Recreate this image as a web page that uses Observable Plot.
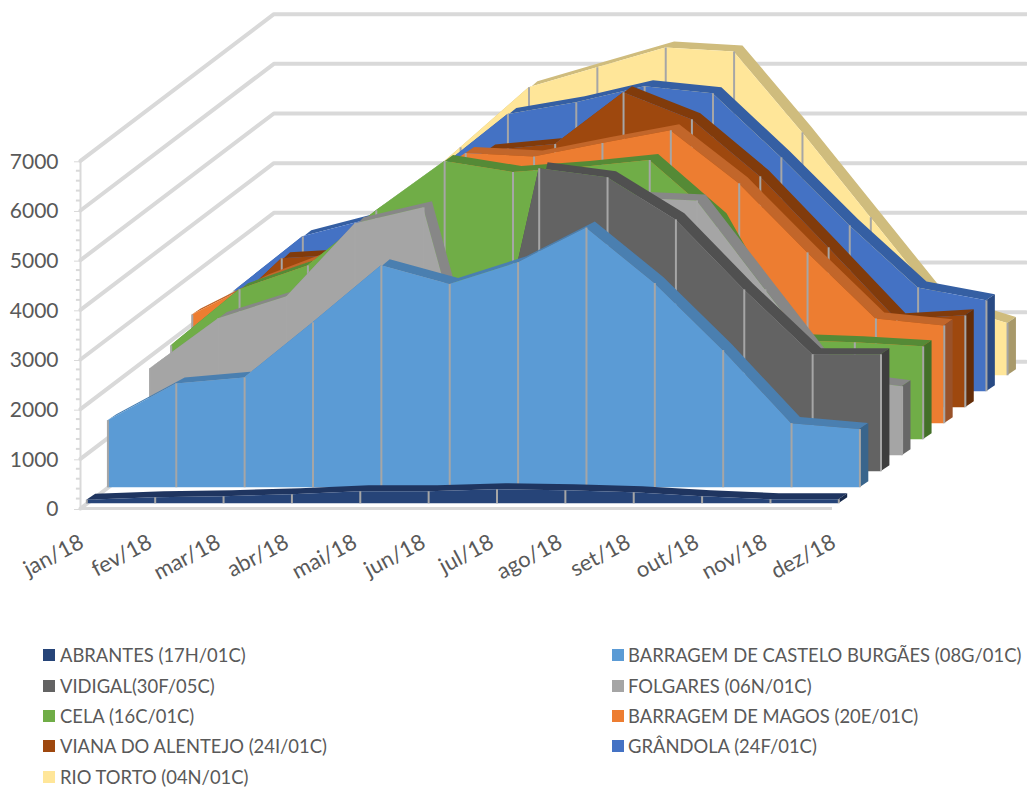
<!DOCTYPE html>
<html>
<head>
<meta charset="utf-8">
<script src="https://cdn.jsdelivr.net/npm/d3@7"></script>
<script src="https://cdn.jsdelivr.net/npm/@observablehq/plot@0.6"></script>
<style>
html,body{margin:0;padding:0;background:#fff;overflow:hidden}
#chart{width:1027px;height:640px}
#legend{position:relative;width:1027px;height:149px;font-family:Lato,sans-serif;font-size:18.4px;color:#595959}
.item{position:absolute;white-space:nowrap;line-height:20px}
.sw{position:absolute;width:12px;height:12px;top:4px}
.lb{position:absolute;top:0}
</style>
</head>
<body>
<div id="chart"></div>
<div id="legend"></div>
<script>
const months = ["jan/18","fev/18","mar/18","abr/18","mai/18","jun/18","jul/18","ago/18","set/18","out/18","nov/18","dez/18"];
const yTicks = [0,1000,2000,3000,4000,5000,6000,7000];
const yMinorTicks = [200,400,600,800,1200,1400,1600,1800,2200,2400,2600,2800,3200,3400,3600,3800,4200,4400,4600,4800,5200,5400,5600,5800,6200,6400,6600,6800];

const abrantes  = [70,120,140,180,240,240,280,260,220,140,80,80];
const castelo   = [1350,2090,2210,3320,4470,4090,4530,5230,4110,2760,1290,1170];
const vidigal   = [0,0,0,0,0,0,6100,5920,5070,3660,2355,2355];
const folgares  = [1750,2760,3200,4670,4990,0,0,5190,5130,3340,1570,1390];
const cela      = [1890,3020,3500,4610,5600,5380,5480,5620,4430,2000,1950,1870];
const magos     = [2190,2880,3400,4500,5440,5370,5640,5900,4830,3440,2110,1970];
const viana     = [1700,3000,3080,4200,5170,5300,6340,5800,4650,3220,1770,1850];
const grandola  = [2030,3120,3480,4490,5580,5820,6140,6000,4710,3340,2090,1830];
const rioTorto  = [1700,2700,3400,4590,5800,6200,6600,6520,4890,3180,1470,1050];

const names = ["ABRANTES (17H/01C)","BARRAGEM DE CASTELO BURGÃES (08G/01C)","VIDIGAL(30F/05C)","FOLGARES (06N/01C)","CELA (16C/01C)","BARRAGEM DE MAGOS (20E/01C)","VIANA DO ALENTEJO (24I/01C)","GRÂNDOLA (24F/01C)","RIO TORTO (04N/01C)"];
const values = [abrantes,castelo,vidigal,folgares,cela,magos,viana,grandola,rioTorto];
const faceColors = ["#264478","#5b9bd5","#636363","#a5a5a5","#70ad47","#ed7d31","#9e480e","#4472c4","#ffe699"];
const topColors  = ["#1f3560","#4a7fb0","#505050","#878787","#558a36","#c2662a","#813b0b","#355fa3","#cfbc7d"];
const sideColors = ["#182a4c","#39658c","#3e3e3e","#676767","#437029","#99522a","#642d08","#284a84","#a8996a"];

// oblique projection: how far one series step shifts in month units and in value units
const stepX = 0.3085, stepY = 322, thickX = 0.13, thickY = 121, firstDepth = 0.3, wallDepth = 9.17;
const wallX = wallDepth * stepX, wallY = wallDepth * stepY;

const grid = yTicks.flatMap(v => [
  {v, x: 0, y: v},
  {v, x: wallX, y: v + wallY},
  {v, x: 11 + wallX, y: v + wallY}
]);

const marks = [
  Plot.line(grid, {x: "x", y: "y", z: "v", stroke: "#d9d9d9", strokeWidth: 4, strokeLinejoin: "miter"}),
  Plot.ruleY([0], {x1: 0, x2: 11, stroke: "#d9d9d9", strokeWidth: 3}),
  Plot.ruleX([0], {y1: 0, y2: 7000, stroke: "#d9d9d9", strokeWidth: 2}),
  Plot.ruleY(yMinorTicks, {x1: -0.06, x2: 0, stroke: "#d9d9d9", strokeWidth: 2}),
  Plot.axisY({ticks: yTicks, anchor: "left", tickSize: 6, tickPadding: 16, stroke: "#d9d9d9", fill: "#595959", fontSize: 21, label: null, tickFormat: d => String(d), dy: 1}),
  Plot.text(months, {x: (d, i) => i + 0.02, y: () => 0, text: d => d, dy: 32, rotate: -28, textAnchor: "end", lineAnchor: "middle", fontSize: 22, fill: "#595959"})
];

for (let s = values.length - 1; s >= 0; s--) {
  const d = s + firstDepth;
  const rows = values[s].map((v, m) => ({
    x: m + d * stepX,
    base: d * stepY,
    top: v + d * stepY
  }));
  const last = rows[rows.length - 1];
  const side = [
    {x: last.x, y1: last.base, y2: last.top},
    {x: last.x + thickX, y1: last.base + thickY, y2: last.top + thickY}
  ];
  marks.push(
    Plot.area(rows, {x1: "x", y1: "top", x2: r => r.x + thickX, y2: r => r.top + thickY, fill: topColors[s]}),
    Plot.area(side, {x1: "x", y1: "y1", y2: "y2", fill: sideColors[s]}),
    Plot.area(rows, {x1: "x", y1: "base", y2: "top", fill: faceColors[s]}),
    Plot.ruleX(rows, {x: "x", y1: "base", y2: "top", stroke: "#a6a6a6", strokeWidth: 2})
  );
}

const chart = Plot.plot({
  width: 1027,
  height: 640,
  marginLeft: 80,
  marginRight: 0,
  marginTop: 0,
  marginBottom: 0,
  style: {fontFamily: "Lato, sans-serif", background: "#fff", overflow: "visible"},
  x: {domain: [0, 11], range: [80, 832], axis: null},
  y: {domain: [0, 7000], range: [508, 160.3], axis: null},
  marks
});
document.getElementById("chart").appendChild(chart);

const legend = document.getElementById("legend");
const rowTops = [5, 36, 66, 96, 127];
names.forEach((n, i) => {
  const col = i % 2, row = Math.floor(i / 2);
  const el = document.createElement("div");
  el.className = "item";
  el.style.left = (col ? 612 : 43) + "px";
  el.style.top = rowTops[row] + "px";
  el.innerHTML = '<span class="sw" style="background:' + faceColors[i] + '"></span><span class="lb" style="left:' + (col ? 16 : 17) + 'px"></span>';
  el.querySelector(".lb").textContent = n;
  legend.appendChild(el);
});
</script>
</body>
</html>
